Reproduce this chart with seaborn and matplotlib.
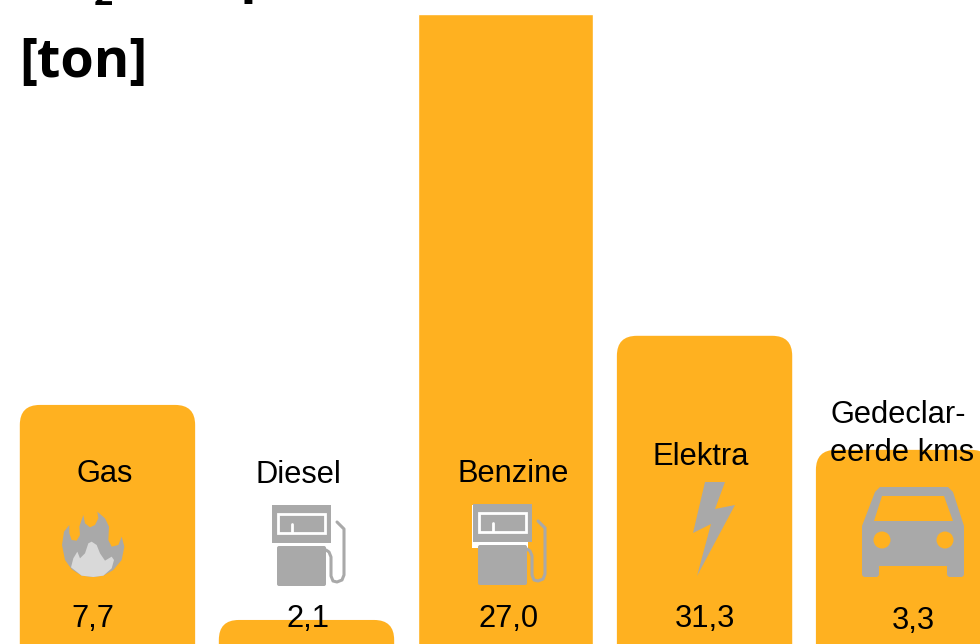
import matplotlib
matplotlib.use('Agg')
import matplotlib.pyplot as plt
import pandas as pd
import seaborn as sns
from matplotlib.patches import BoxStyle, Circle, FancyBboxPatch, Polygon, Rectangle

# bar heights are read off the picture, the printed labels do not follow them
categories = ['Gas', 'Diesel', 'Benzine', 'Elektra', 'Gedeclareerde kms']
bar_heights = [7.7, 2.1, 17.87, 9.5, 6.53]
value_labels = ['7,7', '2,1', '27,0', '31,3', '3,3']
name_labels = ['Gas', 'Diesel', 'Benzine', 'Elektra', 'Gedeclar-\neerde kms']
name_pos = [(105, 474), (298, 475), (513, 474), (701, 457), (830, 434)]
value_pos = [(93, 619), (308, 619), (509, 619), (705, 619), (913, 621)]

ORANGE = '#FFB120'
GREY = '#A9A9A9'
LIGHT = '#D9D9D9'

df = pd.DataFrame({'cat': categories, 'height': bar_heights})

sns.set_theme(style='white')
plt.rcParams['font.family'] = ['Liberation Sans', 'DejaVu Sans']

fig = plt.figure(figsize=(9.8, 6.44), dpi=100)
ax = fig.add_axes([0, 0, 1, 1])
sns.barplot(data=df, x='cat', y='height', color=ORANGE, saturation=1, width=0.881, ax=ax)
ax.set_xlim(-0.540, 4.384)
ax.set_ylim(1.474, 18.245)
ax.axis('off')

# swap the square bars for rounded ones, the tallest one stays square
x_per_px = (4.384 + 0.540) / 980
y_per_px = (18.245 - 1.474) / 644
for p in list(ax.patches):
    x, w, h = p.get_x(), p.get_width(), p.get_height()
    if h == max(bar_heights):
        continue
    rounded = FancyBboxPatch((x, 0), w, h, boxstyle=BoxStyle('Round', pad=0, rounding_size=20 * x_per_px),
                             mutation_aspect=y_per_px / x_per_px, fc=ORANGE, ec='none')
    ax.add_patch(rounded)
    p.remove()

# pixel overlay for text and icons
ov = fig.add_axes([0, 0, 1, 1])
ov.set_xlim(0, 980)
ov.set_ylim(644, 0)
ov.axis('off')
ov.patch.set_alpha(0)

title_font = ['Open Sans', 'DejaVu Sans']
ov.text(19, 77, '[ton]', fontsize=39, fontweight='bold', family=title_font, va='baseline', ha='left', color='black')
# first title line runs off the top, only the subscript and the p stick out
ov.text(19, -9, 'CO', fontsize=39, fontweight='bold', family=title_font, va='baseline', ha='left', color='black')
ov.text(94, 5, '2', fontsize=24, fontweight='bold', family=title_font, va='baseline', ha='left', color='black')
ov.text(130, -9, 'footprint', fontsize=39, fontweight='bold', family=title_font, va='baseline', ha='left',
        color='black')

for lab, (x, y) in zip(name_labels, name_pos):
    if '\n' in lab:
        ov.text(x, y, lab, fontsize=22.2, ha='left', va='center', linespacing=1.39, color='black')
    else:
        ov.text(x, y, lab, fontsize=22.2, ha='center', va='center', color='black')
for lab, (x, y) in zip(value_labels, value_pos):
    ov.text(x, y, lab, fontsize=22.2, ha='center', va='center', color='black')


def pump(x0, y0, halo=False):
    if halo:
        ov.add_patch(Rectangle((x0 - 1, y0 + 1), 56, 43, fc='white', ec='none'))
    ov.add_patch(Rectangle((x0, y0), 59, 38, fc=GREY, ec='none'))
    ov.add_patch(Rectangle((x0 + 6, y0 + 9), 47, 19, fc='none', ec='white', lw=2))
    ov.plot([x0 + 20, x0 + 20], [y0 + 19, y0 + 27], color='white', lw=2)
    ov.add_patch(FancyBboxPatch((x0 + 5, y0 + 41), 49, 40, boxstyle='round,pad=0,rounding_size=2', fc=GREY, ec='none'))
    xs = [x0 + 54, x0 + 57, x0 + 59, x0 + 59, x0 + 61, x0 + 65, x0 + 70, x0 + 72, x0 + 72, x0 + 65]
    ys = [y0 + 45, y0 + 47, y0 + 52, y0 + 71, y0 + 76, y0 + 77, y0 + 75, y0 + 70, y0 + 24, y0 + 17]
    ov.plot(xs, ys, color=GREY, lw=2.2)


pump(272, 505)
pump(473, 504, halo=True)


def flame_pts(pts):
    return [(40 + a / 3, 490 + b / 3) for a, b in pts]


flame_outer = [(66, 165), (72, 125), (88, 105), (88, 130), (95, 150), (110, 152), (120, 135), (118, 110),
               (130, 75), (135, 100), (150, 112), (165, 105), (175, 85), (172, 65), (195, 85), (207, 110),
               (205, 150), (215, 170), (235, 165), (245, 140), (253, 170), (245, 210), (220, 240), (190, 257),
               (160, 261), (125, 257), (95, 238), (75, 210)]
flame_inner = [(93, 232), (100, 205), (112, 185), (120, 205), (135, 190), (145, 160), (155, 155), (170, 165),
               (180, 190), (195, 212), (215, 200), (222, 210), (215, 235), (190, 257), (160, 261), (125, 257)]
ov.add_patch(Polygon(flame_pts(flame_outer), fc=GREY, ec='none'))
ov.add_patch(Polygon(flame_pts(flame_inner), fc=LIGHT, ec='none'))

# bolt
ov.add_patch(Polygon([(705, 482), (725, 482), (715, 509), (735, 505), (697, 576), (711, 524), (693, 533)],
                     fc=GREY, ec='none'))

# car
ov.add_patch(Polygon([(862, 526), (875, 492), (880, 487), (948, 487), (953, 492), (964, 526), (964, 566),
                      (862, 566)], fc=GREY, ec='none'))
ov.add_patch(Polygon([(874, 521), (882, 496), (944, 496), (953, 521)], fc=ORANGE, ec='none'))
ov.add_patch(Circle((882, 540), 8.5, fc=ORANGE, ec='none'))
ov.add_patch(Circle((945, 540), 8.5, fc=ORANGE, ec='none'))
ov.add_patch(FancyBboxPatch((862, 560), 17, 17, boxstyle='round,pad=0,rounding_size=3', fc=GREY, ec='none'))
ov.add_patch(FancyBboxPatch((947, 560), 17, 17, boxstyle='round,pad=0,rounding_size=3', fc=GREY, ec='none'))

fig.savefig('out.png', dpi=100)
